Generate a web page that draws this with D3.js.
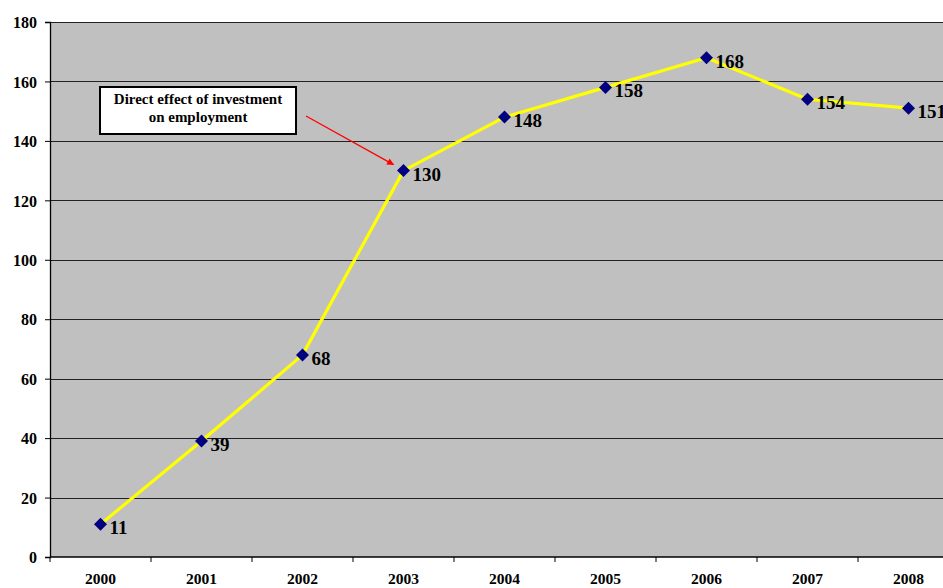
<!DOCTYPE html>
<html>
<head>
<meta charset="utf-8">
<script src="https://cdn.jsdelivr.net/npm/d3@7"></script>
<style>
  html, body { margin: 0; padding: 0; background: #fff; }
  #chart { width: 943px; height: 588px; overflow: hidden; }
  svg { display: block; }
  svg text { font-family: "Liberation Serif", "Times New Roman", serif; font-weight: bold; fill: #000; }
</style>
</head>
<body>
<div id="chart"></div>
<script>
const years = ["2000", "2001", "2002", "2003", "2004", "2005", "2006", "2007", "2008"];
const values = [11, 39, 68, 130, 148, 158, 168, 154, 151];
const yTicks = [0, 20, 40, 60, 80, 100, 120, 140, 160, 180];
const noteLines = ["Direct effect of investment", "on employment"];
const noteYear = "2003";

function draw() {
  const w = 943, h = 588;
  const margin = { top: 22, right: -16, bottom: 31, left: 50 };
  const innerW = w - margin.left - margin.right;
  const innerH = h - margin.top - margin.bottom;

  const svg = d3.select("#chart").append("svg")
    .attr("width", w)
    .attr("height", h);

  svg.append("defs").append("marker")
    .attr("id", "arrow")
    .attr("viewBox", "0 0 10 10")
    .attr("refX", 9).attr("refY", 5)
    .attr("markerWidth", 8).attr("markerHeight", 7)
    .attr("markerUnits", "userSpaceOnUse")
    .attr("orient", "auto")
    .append("path")
    .attr("d", "M0,0 L10,5 L0,10 z")
    .attr("fill", "#ff0000");

  const g = svg.append("g")
    .attr("transform", `translate(${margin.left},${margin.top})`);

  const x = d3.scaleBand().domain(years).range([0, innerW]);
  const y = d3.scaleLinear().domain([0, 180]).range([innerH, 0]);
  const cx = d => x(d) + x.bandwidth() / 2;

  // plot background
  g.append("rect")
    .attr("width", innerW).attr("height", innerH)
    .attr("fill", "#c0c0c0");

  // gridlines
  g.append("g")
    .selectAll("line")
    .data(yTicks.filter(t => t > 0))
    .join("line")
    .attr("x1", 0).attr("x2", innerW)
    .attr("y1", d => Math.round(y(d)) + 0.5)
    .attr("y2", d => Math.round(y(d)) + 0.5)
    .attr("stroke", "#222")
    .attr("stroke-width", 1);

  // y axis
  const yAxis = g.append("g")
    .call(d3.axisLeft(y).tickValues(yTicks).tickSize(5).tickPadding(8));
  yAxis.attr("font-family", null).attr("font-size", null);
  yAxis.select(".domain").attr("stroke", "#000").attr("stroke-width", 1.3);
  yAxis.selectAll("line").attr("stroke", "#000");
  yAxis.selectAll("text")
    .style("font-size", "16px")
    .attr("dy", "0.36em");

  // x axis, ticks between categories
  const xAxis = g.append("g").attr("transform", `translate(0,${innerH})`);
  xAxis.append("line")
    .attr("x1", 0).attr("x2", innerW)
    .attr("stroke", "#000").attr("stroke-width", 1.3);
  xAxis.selectAll("line.tick")
    .data(years.concat(["end"]))
    .join("line")
    .attr("class", "tick")
    .attr("x1", (d, i) => i * x.bandwidth())
    .attr("x2", (d, i) => i * x.bandwidth())
    .attr("y1", 0).attr("y2", 5)
    .attr("stroke", "#000");
  xAxis.selectAll("text")
    .data(years)
    .join("text")
    .attr("x", d => cx(d))
    .attr("y", 27)
    .attr("text-anchor", "middle")
    .style("font-size", "15.5px")
    .text(d => d);

  const data = years.map((yr, i) => ({ year: yr, value: values[i] }));

  // line
  g.append("path")
    .datum(data)
    .attr("fill", "none")
    .attr("stroke", "#ffff00")
    .attr("stroke-width", 3.2)
    .attr("stroke-linejoin", "round")
    .attr("d", d3.line().x(d => cx(d.year)).y(d => y(d.value)));

  // diamond markers
  g.selectAll("path.pt")
    .data(data)
    .join("path")
    .attr("class", "pt")
    .attr("d", "M0,-6.5 L6.5,0 L0,6.5 L-6.5,0 Z")
    .attr("transform", d => `translate(${cx(d.year)},${y(d.value)})`)
    .attr("fill", "#000080");

  // value labels
  g.selectAll("text.val")
    .data(data)
    .join("text")
    .attr("class", "val")
    .attr("x", d => cx(d.year) + 9)
    .attr("y", d => y(d.value) + 10)
    .style("font-size", "19px")
    .text(d => d.value);

  // annotation box
  const bx = 100 - margin.left, by = 87 - margin.top;
  g.append("rect")
    .attr("x", bx).attr("y", by)
    .attr("width", 196).attr("height", 47)
    .attr("fill", "#fff")
    .attr("stroke", "#000")
    .attr("stroke-width", 2);
  g.selectAll("text.note")
    .data(noteLines)
    .join("text")
    .attr("class", "note")
    .attr("x", bx + 98)
    .attr("y", (d, i) => by + 17 + i * 18)
    .attr("text-anchor", "middle")
    .style("font-size", "15px")
    .text(d => d);

  // arrow to the noted point
  const target = data.find(d => d.year === noteYear);
  g.append("line")
    .attr("x1", 306 - margin.left).attr("y1", 116 - margin.top)
    .attr("x2", cx(target.year) - 10).attr("y2", y(target.value) - 6)
    .attr("stroke", "#ff0000")
    .attr("stroke-width", 1.3)
    .attr("marker-end", "url(#arrow)");
}

draw();
</script>
</body>
</html>
